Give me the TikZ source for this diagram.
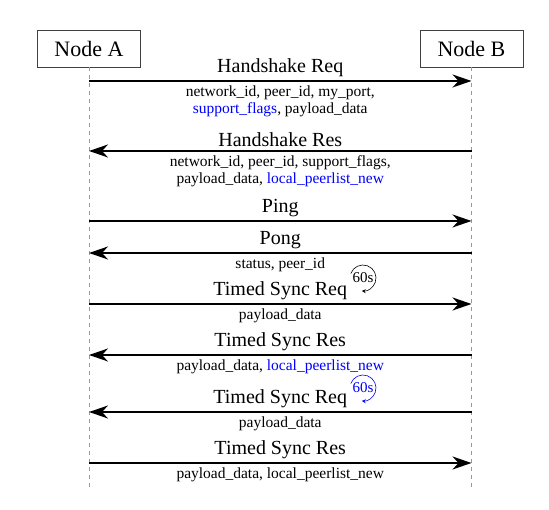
\documentclass[tikz,border=0pt]{standalone}
\usepackage{fontspec}
\setmainfont{Liberation Serif}
\usetikzlibrary{arrows.meta, positioning, calc}

\begin{document}
\begin{tikzpicture}[x=1pt, y=1pt,
  peer/.style  = {rectangle, draw=black!75, line width=0.7pt,
                  minimum width=103pt, minimum height=37pt,
                  font=\fontsize{22}{26}\selectfont},
  life/.style  = {draw=black!40, line width=0.7pt, dash pattern=on 4pt off 4pt},
  msg/.style   = {-{Stealth[length=19pt, width=13pt, inset=6pt]}, line width=1.6pt},
  ttl/.style   = {above, font=\fontsize{20}{24}\selectfont, inner sep=3pt},
  info/.style  = {below, font=\fontsize{15.5}{17}\selectfont, align=center, inner sep=3.5pt},
  timer/.style = {font=\fontsize{15}{17}\selectfont, inner sep=0pt},
  tarc/.style  = {-{Stealth[length=4pt, width=4pt, inset=1.5pt]}, line width=0.6pt},
]
  \useasboundingbox (0,0) rectangle (549,510);

  \node[peer] (nodeA) at (89,461.5)   {Node A};
  \node[peer] (nodeB) at (471.5,461.5) {Node B};

  \coordinate (endA) at (89,20);
  \coordinate (endB) at (471.5,20);
  \draw[life] (nodeA) -- (endA);
  \draw[life] (nodeB) -- (endB);

  \coordinate (a1) at (89,429);    \coordinate (b1) at (471.5,429);
  \coordinate (a2) at (89,359);    \coordinate (b2) at (471.5,359);
  \coordinate (a3) at (89,289);    \coordinate (b3) at (471.5,289);
  \coordinate (a4) at (89,257);    \coordinate (b4) at (471.5,257);
  \coordinate (a5) at (89,206);    \coordinate (b5) at (471.5,206);
  \coordinate (a6) at (89,155);    \coordinate (b6) at (471.5,155);
  \coordinate (a7) at (89,98);     \coordinate (b7) at (471.5,98);
  \coordinate (a8) at (89,47);     \coordinate (b8) at (471.5,47);

  \draw[msg] (a1) -- node[ttl] {Handshake Req}
    node[info] {network\_id, peer\_id, my\_port,\\
                \textcolor{blue}{support\_flags}, payload\_data} (b1);
  \draw[msg] (b2) -- node[ttl] {Handshake Res}
    node[info] {network\_id, peer\_id, support\_flags,\\
                payload\_data, \textcolor{blue}{local\_peerlist\_new}} (a2);
  \draw[msg] (a3) -- node[ttl] {Ping} (b3);
  \draw[msg] (b4) -- node[ttl] {Pong} node[info] {status, peer\_id} (a4);
  \draw[msg] (a5) -- node[ttl] {Timed Sync Req} node[info] {payload\_data} (b5);
  \draw[msg] (b6) -- node[ttl] {Timed Sync Res}
    node[info] {payload\_data, \textcolor{blue}{local\_peerlist\_new}} (a6);
  \draw[msg] (b7) -- node[ttl] {Timed Sync Req} node[info] {payload\_data} (a7);
  \draw[msg] (a8) -- node[ttl] {Timed Sync Res}
    node[info] {payload\_data, local\_peerlist\_new} (b8);

  % timers
  \node[timer] (t1) at (363,232) {60s};
  \draw[tarc] ([shift={(160:13pt)}]t1.center) arc[start angle=160, end angle=-95, radius=13pt];
  \node[timer, text=blue] (t2) at (363,122) {60s};
  \draw[tarc, blue] ([shift={(160:13pt)}]t2.center) arc[start angle=160, end angle=-95, radius=13pt];
\end{tikzpicture}
\end{document}
